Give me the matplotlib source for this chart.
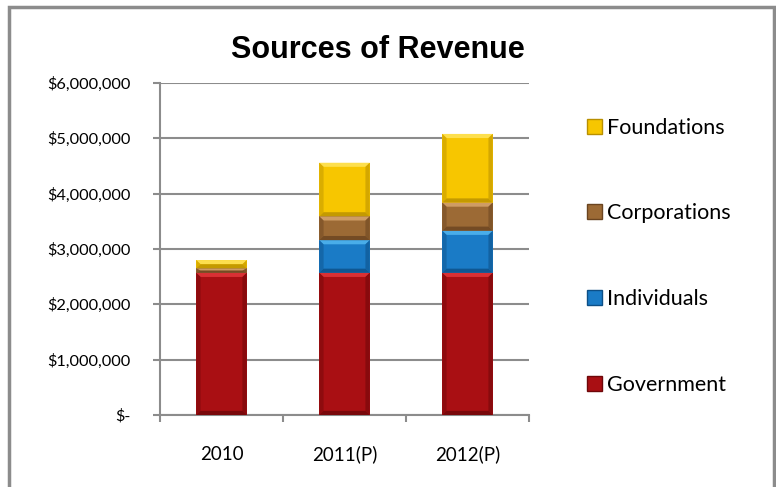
import numpy as np
import matplotlib
matplotlib.use("Agg")
import matplotlib.pyplot as plt
from matplotlib.patches import Polygon, Rectangle, Patch
from matplotlib.ticker import FuncFormatter

# données (en dollars)
annees = ["2010", "2011(P)", "2012(P)"]
series = ["Government", "Individuals", "Corporations", "Foundations"]
government = [2570000, 2570000, 2570000]
individuals = [0, 590000, 760000]
corporations = [80000, 430000, 510000]
foundations = [150000, 970000, 1240000]

couleurs = {
    "Government": ("#a90f13", "#e2373a", "#6e0709"),
    "Individuals": ("#1a7bc6", "#52b6f0", "#0d4f86"),
    "Corporations": ("#9c6a35", "#d8a66e", "#6a4420"),
    "Foundations": ("#f7c600", "#ffe45c", "#b88f00"),
}

plt.rcParams['font.family'] = ['Lato', 'DejaVu Sans']

fig = plt.figure(figsize=(7.76, 4.87), dpi=100)
ax = fig.add_axes([160/776, 1-415/487, (529-160)/776, (415-83)/487])

x = np.arange(len(annees))
largeur = 0.41


def biseau(ax, rect, clair, fonce):
    # petit effet de relief sur chaque segment
    x0, y0 = rect.get_x(), rect.get_y()
    w, h = rect.get_width(), rect.get_height()
    if h <= 0:
        return
    bx = 0.035
    by = min(75000, h / 2)
    x1, y1 = x0 + w, y0 + h
    haut = [(x0, y1), (x1, y1), (x1 - bx, y1 - by), (x0 + bx, y1 - by)]
    bas = [(x0, y0), (x1, y0), (x1 - bx, y0 + by), (x0 + bx, y0 + by)]
    gauche = [(x0, y0), (x0, y1), (x0 + bx, y1 - by), (x0 + bx, y0 + by)]
    droite = [(x1, y0), (x1, y1), (x1 - bx, y1 - by), (x1 - bx, y0 + by)]
    ax.add_patch(Polygon(haut, closed=True, fc=clair, ec='none', alpha=0.85, zorder=4))
    ax.add_patch(Polygon(bas, closed=True, fc=fonce, ec='none', alpha=0.8, zorder=4))
    ax.add_patch(Polygon(gauche, closed=True, fc=fonce, ec='none', alpha=0.45, zorder=4))
    ax.add_patch(Polygon(droite, closed=True, fc=fonce, ec='none', alpha=0.55, zorder=4))


bas = np.zeros(len(annees))
handles = []
for nom, valeurs in zip(series, [government, individuals, corporations, foundations]):
    base, clair, fonce = couleurs[nom]
    barres = ax.bar(x, valeurs, largeur, bottom=bas, color=base, zorder=3, label=nom)
    for r in barres:
        biseau(ax, r, clair, fonce)
    bas += np.array(valeurs)
    handles.append(Patch(facecolor=base, edgecolor=fonce, linewidth=1))

ax.set_xlim(-0.5, 2.5)
ax.set_ylim(0, 6000000)
ax.set_yticks(np.arange(0, 6000001, 1000000))


def format_dollar(v, pos):
    if v == 0:
        return "$-"
    return "${:,.0f}".format(v)


ax.yaxis.set_major_formatter(FuncFormatter(format_dollar))
ax.set_xticks(x)
ax.set_xticklabels(annees)
ax.set_xticks([-0.5, 0.5, 1.5, 2.5], minor=True)
ax.tick_params(axis='x', which='major', length=0, pad=22, labelsize=13.5)
ax.tick_params(axis='x', which='minor', length=5, width=1.5, color='#8c8c8c', direction='out')
ax.tick_params(axis='y', length=5, width=1.5, color='#8c8c8c', pad=16, labelsize=11.8)

ax.grid(axis='y', color='#8c8c8c', linewidth=1.5, zorder=0)
for cote in ['top', 'right']:
    ax.spines[cote].set_visible(False)
for cote in ['left', 'bottom']:
    ax.spines[cote].set_color('#8c8c8c')
    ax.spines[cote].set_linewidth(1.5)

fig.text(378/776, 1-50/487, "Sources of Revenue", ha='center', va='center',
         fontsize=22, fontweight='bold', family='Liberation Sans')

leg = fig.legend(handles[::-1], series[::-1], loc='upper left',
                 bbox_to_anchor=(578/776, 1-109/487), frameon=False,
                 fontsize=15.5, handlelength=0.7, handleheight=0.7,
                 handletextpad=0.25, labelspacing=3.05, borderaxespad=0)

# cadre gris autour de la figure
fig.patches.append(Rectangle((9/776, -0.02), (774-9)/776, 1-6.5/487+0.02,
                             transform=fig.transFigure, fill=False,
                             ec='#8c8c8c', lw=2.5, zorder=10))

fig.savefig("out.png", dpi=100)
